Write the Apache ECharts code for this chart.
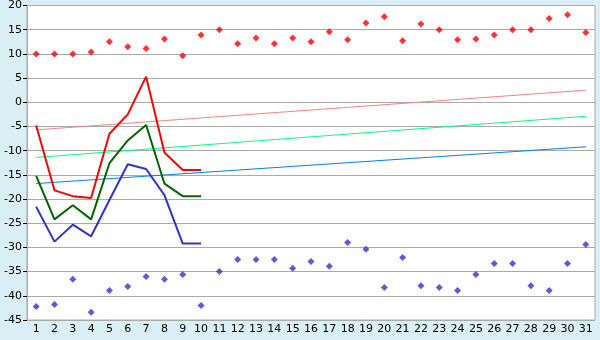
<!DOCTYPE html>
<html><head><meta charset="utf-8">
<script src="https://cdn.jsdelivr.net/npm/echarts@6/dist/echarts.min.js"></script>
<style>html,body{margin:0;padding:0;background:#daeef5}#c{width:600px;height:340px}</style>
</head><body><div id="c"></div>
<script>
var days = ['1','2','3','4','5','6','7','8','9','10','11','12','13','14','15','16','17','18','19','20','21','22','23','24','25','26','27','28','29','30','31'];
var recordMax = [10.0,10.0,10.0,10.4,12.5,11.5,11.1,13.1,9.6,13.9,15.0,12.1,13.3,12.1,13.3,12.5,14.6,12.9,16.4,17.7,12.7,16.2,15.0,12.9,13.1,13.9,15.0,15.0,17.3,18.1,14.4];
var recordMin = [-42.2,-41.8,-36.6,-43.4,-38.9,-38.1,-36.0,-36.6,-35.6,-42.0,-35.0,-32.5,-32.5,-32.5,-34.3,-32.9,-33.9,-29.0,-30.4,-38.3,-32.1,-37.9,-38.3,-38.9,-35.6,-33.3,-33.3,-37.9,-38.9,-33.3,-29.4];
var dailyMax = [-4.8,-18.2,-19.4,-19.8,-6.5,-2.5,5.3,-10.4,-14.0,-14.0];
var dailyMean = [-15.2,-24.2,-21.3,-24.2,-12.6,-7.9,-4.7,-16.8,-19.4,-19.4];
var dailyMin = [-21.6,-28.8,-25.3,-27.7,-20.2,-12.8,-13.8,-19.2,-29.2,-29.2];
var normMaxEnds = [-5.7, 2.5];
var normMeanEnds = [-11.4, -2.9];
var normMinEnds = [-16.8, -9.2];
var yTicks = {min: -45, max: 20, step: 5};

function ends(e){ return [[0, e[0]], [days.length - 1, e[1]]]; }
var font = 'DejaVu Sans';
var chart = echarts.init(document.getElementById('c'));
chart.setOption({
  animation: false,
  backgroundColor: '#daeef5',
  grid: {left: 27, right: 5, top: 5, bottom: 20, show: true, backgroundColor: '#ffffff', borderColor: '#aaaaaa', borderWidth: 1},
  xAxis: {
    type: 'category', data: days, boundaryGap: true,
    axisLine: {lineStyle: {color: '#aaaaaa'}},
    axisTick: {alignWithLabel: true, length: 5, lineStyle: {color: '#000'}},
    axisLabel: {color: '#000', fontFamily: font, fontSize: 11, margin: 4, interval: 0},
    splitLine: {show: false}
  },
  yAxis: {
    type: 'value', min: yTicks.min, max: yTicks.max, interval: yTicks.step,
    axisLine: {show: true, lineStyle: {color: '#aaaaaa'}},
    axisTick: {show: true, length: 4, lineStyle: {color: '#000'}},
    axisLabel: {color: '#000', fontFamily: font, fontSize: 11, margin: 5},
    splitLine: {lineStyle: {color: '#aaaaaa', width: 1}}
  },
  series: [
    {type: 'line', data: ends(normMaxEnds), symbol: 'none', lineStyle: {color: '#ff8080', width: 1}, z: 2},
    {type: 'line', data: ends(normMeanEnds), symbol: 'none', lineStyle: {color: '#00ff80', width: 1}, z: 2},
    {type: 'line', data: ends(normMinEnds), symbol: 'none', lineStyle: {color: '#0080ff', width: 1}, z: 2},
    {type: 'line', data: dailyMax, symbol: 'none', lineStyle: {color: '#ff0000', width: 2}, z: 3},
    {type: 'line', data: dailyMean, symbol: 'none', lineStyle: {color: '#006400', width: 2}, z: 3},
    {type: 'line', data: dailyMin, symbol: 'none', lineStyle: {color: '#3333cc', width: 2}, z: 3},
    {type: 'scatter', data: recordMax, symbol: 'diamond', symbolSize: 7, itemStyle: {color: '#ff0000'}, z: 4},
    {type: 'scatter', data: recordMin, symbol: 'diamond', symbolSize: 7, itemStyle: {color: '#3333cc'}, z: 4}
  ]
});
</script></body></html>
